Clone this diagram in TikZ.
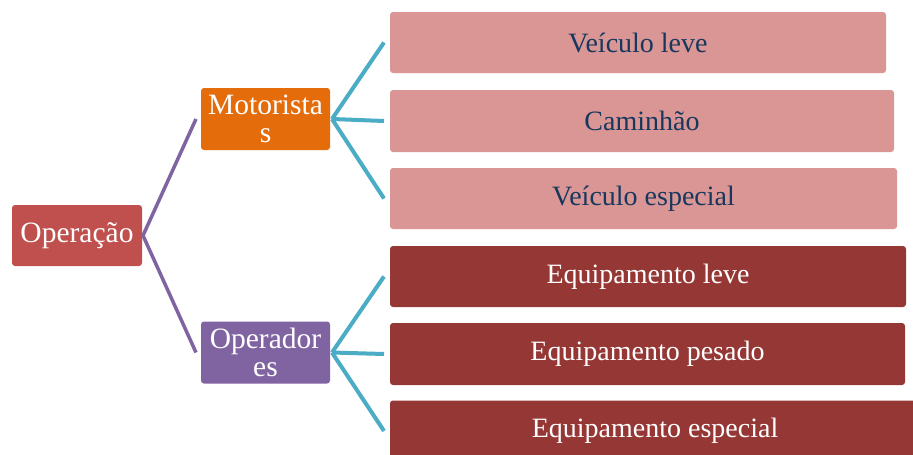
\documentclass[tikz,border=0pt]{standalone}
\usepackage{fontspec}
\setmainfont{Liberation Serif}
\definecolor{rootred}{HTML}{C0504D}
\definecolor{orng}{HTML}{E46C0A}
\definecolor{purp}{HTML}{8064A2}
\definecolor{pink}{HTML}{D99694}
\definecolor{dred}{HTML}{953735}
\definecolor{navy}{HTML}{17375E}
\definecolor{cyanl}{HTML}{4BACC6}
\begin{document}
\begin{tikzpicture}[x=1pt,y=-1pt,
  box/.style={draw=none,rounded corners=3pt,inner sep=0pt,outer sep=0pt,align=center,font=\fontsize{28}{28}\selectfont},
  leaf/.style={box,fill=pink,text=navy},
  dleaf/.style={box,fill=dred,text=white},
  mid/.style={box,text=white,minimum width=129pt,minimum height=62pt,font=\fontsize{29.5}{28}\selectfont},
  purpline/.style={draw=purp,line width=3.5pt},
  cyanline/.style={draw=cyanl,line width=4pt}]
\useasboundingbox (0,0) rectangle (913,455);
\fill[white] (0,0) rectangle (913,455);
\node[box,fill=rootred,text=white,minimum width=130pt,minimum height=61pt,font=\fontsize{29.5}{28}\selectfont] (root) at (77,235.5) {Operação};
\node[mid,fill=orng] (mot) at (265.5,119) {Motorista\\s};
\node[mid,fill=purp] (ope) at (265.5,352.5) {Operador\\es};
\node[leaf,minimum width=496pt,minimum height=61pt,anchor=west] (v1) at (390,42.5) {Veículo leve};
\node[leaf,minimum width=504pt,minimum height=62pt,anchor=west] (v2) at (390,121) {Caminhão};
\node[leaf,minimum width=507pt,minimum height=61pt,anchor=west] (v3) at (390,198.5) {Veículo especial};
\node[dleaf,minimum width=516pt,minimum height=61pt,anchor=west] (e1) at (390,276.5) {Equipamento leve};
\node[dleaf,minimum width=515pt,minimum height=62pt,anchor=west] (e2) at (390,354) {Equipamento pesado};
\node[dleaf,minimum width=530pt,minimum height=61pt,anchor=west] (e3) at (390,431) {Equipamento especial};
\coordinate (rootR) at ([xshift=1pt]root.east);
\draw[purpline] ([xshift=-5pt]mot.west) -- (rootR) -- ([xshift=-5pt]ope.west);
\foreach \t in {v1,v2,v3}{\draw[cyanline] ([xshift=2pt]mot.east) -- ([xshift=-6pt]\t.west);}
\foreach \t in {e1,e2,e3}{\draw[cyanline] ([xshift=2pt]ope.east) -- ([xshift=-6pt]\t.west);}
\end{tikzpicture}
\end{document}
